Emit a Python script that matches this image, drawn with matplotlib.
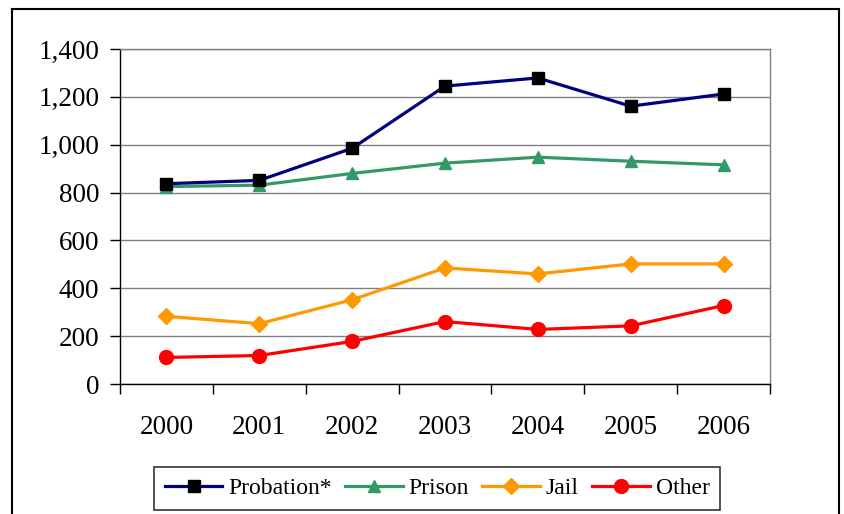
import matplotlib
matplotlib.use("Agg")
import matplotlib.pyplot as plt
from matplotlib.lines import Line2D
from matplotlib.ticker import FuncFormatter, FixedLocator

years = ["2000", "2001", "2002", "2003", "2004", "2005", "2006"]
probation = [837, 851, 985, 1245, 1279, 1161, 1212]
prison = [825, 831, 880, 923, 948, 931, 916]
jail = [283, 252, 352, 485, 460, 502, 502]
other = [111, 119, 178, 261, 228, 243, 328]

plt.rcParams['font.family'] = ['Liberation Serif', 'DejaVu Serif']

fig = plt.figure(figsize=(8.44, 5.14), dpi=100)
W, H = 844, 514
ax = fig.add_axes([120 / W, 1 - 384 / H, 650 / W, (384 - 49) / H])

x = list(range(len(years)))
ax.plot(x, probation, color='#000080', lw=2.3, marker='s', ms=8,
        mfc='black', mec='black', label='Probation*', zorder=5)
ax.plot(x, prison, color='#339966', lw=2.3, marker='^', ms=9,
        mfc='#339966', mec='#339966', label='Prison', zorder=4)
ax.plot(x, jail, color='#FF9900', lw=2.3, marker='D', ms=8,
        mfc='#FF9900', mec='#FF9900', label='Jail', zorder=4)
ax.plot(x, other, color='#FF0000', lw=2.3, marker='o', ms=10,
        mfc='#FF0000', mec='#FF0000', label='Other', zorder=4)

ax.set_xlim(-0.5, len(years) - 0.5)
ax.set_ylim(0, 1400)
ax.yaxis.set_major_locator(FixedLocator(range(0, 1401, 200)))
ax.yaxis.set_major_formatter(FuncFormatter(lambda v, p: f"{int(v):,}"))
ax.grid(axis='y', color='#808080', lw=1.0)
ax.set_axisbelow(True)

ax.set_xticks([i - 0.5 for i in range(len(years) + 1)])
ax.set_xticklabels([])
ax.set_xticks(x, minor=True)
ax.set_xticklabels(years, minor=True)
ax.tick_params(axis='x', which='major', length=7, width=1, color='black', direction='out')
ax.tick_params(axis='x', which='minor', length=0, labelsize=19.5, pad=22)
ax.tick_params(axis='y', length=7, width=1, color='black', labelsize=19.5, pad=8)

for s in ['top', 'right']:
    ax.spines[s].set_color('#808080')
    ax.spines[s].set_linewidth(1.0)
for s in ['left', 'bottom']:
    ax.spines[s].set_color('black')
    ax.spines[s].set_linewidth(1.0)

leg = fig.legend(loc='center', bbox_to_anchor=(437 / W, 1 - 488.5 / H), ncol=4,
                 frameon=True, fontsize=17, handlelength=2.45, handletextpad=0.25,
                 columnspacing=0.55, borderpad=0.45, borderaxespad=0, fancybox=False)
leg.get_frame().set_edgecolor('black')
leg.get_frame().set_linewidth(1.2)

# figure border (bottom edge lies below the image)
bx0, bx1, by = 12 / W, 839 / W, 1 - 9 / H
fig.add_artist(Line2D([bx0, bx0], [-0.01, by], transform=fig.transFigure, color='black', lw=1.5))
fig.add_artist(Line2D([bx1, bx1], [-0.01, by], transform=fig.transFigure, color='black', lw=1.5))
fig.add_artist(Line2D([bx0, bx1], [by, by], transform=fig.transFigure, color='black', lw=1.5))

fig.savefig('out.png', dpi=100)
